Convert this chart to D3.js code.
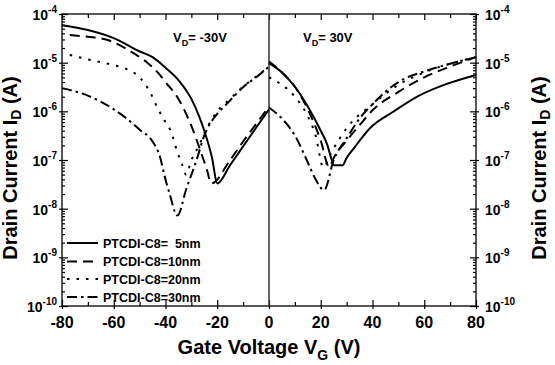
<!DOCTYPE html>
<html>
<head>
<meta charset="utf-8">
<script src="https://cdn.jsdelivr.net/npm/d3@7"></script>
<style>
	body { margin: 0; background: #fff; }
	text { font-family: "Liberation Sans", Arial, sans-serif; font-weight: bold; fill: #000; }
</style>
</head>
<body>
<div id="chart"></div>
<script>
// V_D = -30V sweep (left half)
var vgSolidL = [-80, -70, -60, -50, -45, -40, -35, -30, -27, -25, -22, -20, -15, -10, -5, 0];
var idSolidL = [5.9e-5, 4.7e-5, 3.2e-5, 1.7e-5, 1.3e-5, 7.9e-6, 4.4e-6, 1.8e-6, 7.9e-7, 4.0e-7, 1.1e-7, 3.3e-8, 7.9e-8, 1.9e-7, 4.6e-7, 1.1e-6];
var vgDashL = [-77, -70, -63, -55, -50, -47, -43, -40, -35, -30, -26, -24, -22.3, -15, -10, -5, 0];
var idDashL = [3.7e-5, 3.4e-5, 3.0e-5, 1.9e-5, 1.3e-5, 1.0e-5, 6.3e-6, 4.0e-6, 1.8e-6, 5.0e-7, 1.3e-7, 6.3e-8, 3.3e-8, 1.0e-7, 2.4e-7, 5.5e-7, 1.26e-6];
var vgDotL = [-77, -70, -60, -55, -50, -46, -43, -40, -38, -35.5, -33.7, -32, -30, -27, -25, -20, -15, -10, -5, 0];
var idDotL = [1.45e-5, 1.17e-5, 8.9e-6, 7.4e-6, 5.0e-6, 2.5e-6, 1.15e-6, 6.0e-7, 4.0e-7, 1.5e-7, 8.5e-8, 5.0e-8, 1.0e-7, 2.0e-7, 3.5e-7, 1.0e-6, 1.8e-6, 3.2e-6, 5.2e-6, 8.3e-6];
var vgDashDotL = [-80, -70, -60, -55, -50, -45, -42, -40.5, -38.5, -35.4, -32, -28, -25, -20, -17, -9, -5, 0];
var idDashDotL = [3.0e-6, 2.1e-6, 1.1e-6, 7.1e-7, 4.2e-7, 2.4e-7, 1.1e-7, 5.0e-8, 2.1e-8, 7.2e-9, 2.5e-8, 1.0e-7, 3.2e-7, 8.9e-7, 1.3e-6, 3.5e-6, 5.0e-6, 8.3e-6];

// V_D = 30V sweep (right half)
var vgSolidR = [0, 5, 10, 15, 20, 22.6, 24, 25.1, 28.4, 30, 33, 39, 48, 58, 69, 80];
var idSolidR = [9.8e-6, 6.3e-6, 3.2e-6, 1.26e-6, 4.0e-7, 2.0e-7, 1.1e-7, 7.8e-8, 7.8e-8, 1.1e-7, 1.8e-7, 4.5e-7, 9.8e-7, 2.1e-6, 3.7e-6, 5.6e-6];
var vgDashR = [0, 5, 10, 15, 20, 23.3, 25, 30, 35, 40, 50, 60, 70, 80];
var idDashR = [1.05e-5, 6.3e-6, 3.2e-6, 1.1e-6, 2.5e-7, 7.2e-8, 1.1e-7, 2.5e-7, 5.2e-7, 1.05e-6, 2.5e-6, 5.0e-6, 8.3e-6, 1.3e-5];
var vgDotR = [0, 5, 10, 15, 18, 21, 24, 30, 40, 50, 60, 70, 80];
var idDotR = [5.0e-6, 3.5e-6, 2.0e-6, 7.9e-7, 3.2e-7, 7.1e-8, 1.4e-7, 4.5e-7, 1.4e-6, 3.5e-6, 6.3e-6, 9.5e-6, 1.3e-5];
var vgDashDotR = [0, 5, 10, 15, 18, 21.3, 25, 30, 35, 40, 50, 60, 70, 80];
var idDashDotR = [1.2e-6, 7.1e-7, 3.2e-7, 8.9e-8, 4.0e-8, 2.4e-8, 1.0e-7, 2.8e-7, 7.1e-7, 1.4e-6, 4.0e-6, 6.6e-6, 9.5e-6, 1.3e-5];

var legendLabels = ["PTCDI-C8=  5nm", "PTCDI-C8=10nm", "PTCDI-C8=20nm", "PTCDI-C8=30nm"];
var xTicks = [-80, -60, -40, -20, 0, 20, 40, 60, 80];
var yExponents = [-4, -5, -6, -7, -8, -9, -10];

var width = 555, height = 365;
var margin = { top: 14, right: 79, bottom: 59, left: 62 };

var svg = d3.select("#chart").append("svg")
	.attr("width", width)
	.attr("height", height);

var x = d3.scaleLinear().domain([-80, 80]).range([margin.left, width - margin.right]);
var y = d3.scaleLog().domain([1e-10, 1e-4]).range([height - margin.bottom, margin.top]);

var majors = yExponents.map((e) => Math.pow(10, e));
var minors = [];
for (var e = -10; e < -4; e++) {
	for (var k = 2; k <= 9; k++) minors.push(k * Math.pow(10, e));
}
var xMinors = d3.range(-70, 80, 20);

// minor ticks (inside)
svg.append("g").attr("transform", `translate(${margin.left},0)`)
	.call(d3.axisLeft(y).tickValues(minors).tickSizeInner(-3).tickSizeOuter(0).tickFormat(""));
svg.append("g").attr("transform", `translate(${width - margin.right},0)`)
	.call(d3.axisRight(y).tickValues(minors).tickSizeInner(-3).tickSizeOuter(0).tickFormat(""));
svg.append("g").attr("transform", `translate(0,${height - margin.bottom})`)
	.call(d3.axisBottom(x).tickValues(xMinors).tickSizeInner(-4).tickSizeOuter(0).tickFormat(""));
svg.append("g").attr("transform", `translate(0,${margin.top})`)
	.call(d3.axisTop(x).tickValues(xMinors).tickSizeInner(-4).tickSizeOuter(0).tickFormat(""));

// major ticks (crossing)
var yl = svg.append("g").attr("transform", `translate(${margin.left},0)`)
	.call(d3.axisLeft(y).tickValues(majors).tickSizeInner(-6).tickSizeOuter(0).tickFormat(""));
yl.selectAll(".tick line").attr("x1", -3);
var yr = svg.append("g").attr("transform", `translate(${width - margin.right},0)`)
	.call(d3.axisRight(y).tickValues(majors).tickSizeInner(-6).tickSizeOuter(0).tickFormat(""));
yr.selectAll(".tick line").attr("x1", 3);
var xb = svg.append("g").attr("transform", `translate(0,${height - margin.bottom})`)
	.call(d3.axisBottom(x).tickValues(xTicks).tickSizeInner(-6).tickSizeOuter(0).tickFormat(""));
xb.selectAll(".tick line").attr("y1", 3);
svg.append("g").attr("transform", `translate(0,${margin.top})`)
	.call(d3.axisTop(x).tickValues(xTicks).tickSizeInner(-6).tickSizeOuter(0).tickFormat(""));

svg.selectAll(".domain").remove();
svg.selectAll(".tick line").attr("stroke", "#000").attr("stroke-width", 1.2);

// frame
svg.append("rect")
	.attr("x", margin.left)
	.attr("y", margin.top)
	.attr("width", width - margin.left - margin.right)
	.attr("height", height - margin.top - margin.bottom)
	.attr("fill", "none")
	.attr("stroke", "#000")
	.attr("stroke-width", 1.3);

// vertical line at VG = 0
svg.append("line")
	.attr("x1", x(0)).attr("x2", x(0))
	.attr("y1", margin.top).attr("y2", height - margin.bottom)
	.attr("stroke", "#333")
	.attr("stroke-width", 1.5);

// y tick labels (left and right)
function powLabel(g, xPos, anchor, e) {
	var t = g.append("text")
		.attr("x", xPos)
		.attr("y", y(Math.pow(10, e)) + 6)
		.attr("text-anchor", anchor)
		.attr("font-size", "14px");
	t.append("tspan").text("10");
	t.append("tspan").attr("dy", -7).attr("font-size", "10px").text(e);
}
var labels = svg.append("g");
yExponents.forEach((e) => {
	powLabel(labels, margin.left - 5, "end", e);
	powLabel(labels, width - margin.right + 9, "start", e);
});

// x tick labels
svg.append("g").selectAll("text")
	.data(xTicks)
	.join("text")
	.attr("x", (d) => x(d))
	.attr("y", height - margin.bottom + 22)
	.attr("text-anchor", "middle")
	.attr("font-size", "16px")
	.text((d) => d);

// axis titles
var xt = svg.append("text")
	.attr("x", x(0))
	.attr("y", 354)
	.attr("text-anchor", "middle")
	.attr("font-size", "20px");
xt.append("tspan").text("Gate Voltage V");
xt.append("tspan").attr("dy", 6).attr("font-size", "14px").text("G");
xt.append("tspan").attr("dy", -6).text(" (V)");

function yTitle(xPos) {
	var t = svg.append("text")
		.attr("transform", `translate(${xPos},168) rotate(-90)`)
		.attr("text-anchor", "middle")
		.attr("font-size", "20px");
	t.append("tspan").text("Drain Current I");
	t.append("tspan").attr("dy", 4).attr("font-size", "14px").text("D");
	t.append("tspan").attr("dy", -4).text(" (A)");
}
yTitle(17);
yTitle(546);

// V_D annotations
function vdLabel(xPos, val) {
	var t = svg.append("text")
		.attr("x", xPos)
		.attr("y", 42)
		.attr("font-size", "13px");
	t.append("tspan").text("V");
	t.append("tspan").attr("dy", 4).attr("font-size", "9px").text("D");
	t.append("tspan").attr("dy", -4).text("= " + val);
}
vdLabel(173, "-30V");
vdLabel(303, "30V");

// curves
var dashes = [null, "10,6", "2.5,7", "10,4,2.5,4"];
var series = [
	[vgSolidL, idSolidL, vgSolidR, idSolidR],
	[vgDashL, idDashL, vgDashR, idDashR],
	[vgDotL, idDotL, vgDotR, idDotR],
	[vgDashDotL, idDashDotL, vgDashDotR, idDashDotR]
];
var line = d3.line()
	.x((d) => x(d[0]))
	.y((d) => y(d[1]))
	.curve(d3.curveMonotoneX);

series.forEach((s, i) => {
	[[s[0], s[1]], [s[2], s[3]]].forEach((pair) => {
		svg.append("path")
			.datum(d3.zip(pair[0], pair[1]))
			.attr("d", line)
			.attr("fill", "none")
			.attr("stroke", "#000")
			.attr("stroke-width", 2)
			.attr("stroke-dasharray", dashes[i]);
	});
});

// legend
var legendY = [243, 261.5, 279, 297];
var legend = svg.append("g");
legendLabels.forEach((lab, i) => {
	legend.append("line")
		.attr("x1", 67).attr("x2", 98)
		.attr("y1", legendY[i]).attr("y2", legendY[i])
		.attr("stroke", "#000")
		.attr("stroke-width", 2)
		.attr("stroke-dasharray", dashes[i]);
	legend.append("text")
		.attr("x", 103)
		.attr("y", legendY[i] + 4.5)
		.attr("font-size", "12.5px")
		.style("white-space", "pre")
		.text(lab);
});
</script>
</body>
</html>
